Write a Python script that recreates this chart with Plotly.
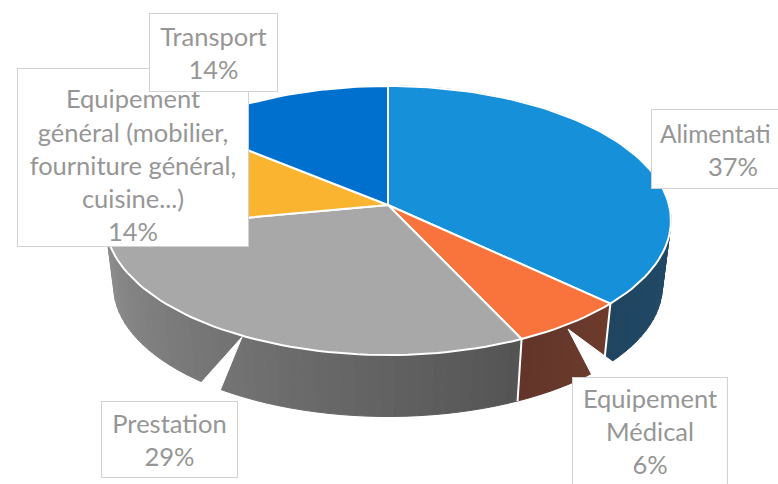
import math
import plotly.graph_objects as go

categories = ['Alimentation', 'Equipement Médical', 'Prestation', 'Equipement général', 'Transport']
values = [37, 6, 29, 14, 14]
# la premiere etiquette est coupee sur l'image d'origine, elle est posee a part
label_lines = ['&nbsp;', 'Equipement<br>Médical', 'Prestation',
               'Equipement<br>général (mobilier,<br>fourniture général,<br>cuisine...)', 'Transport']
cut_label = 'Alimentati'

top_colors = ['#1690d8', '#f9743c', '#a9a8a8', '#fbb42f', '#0070ce']
# seules les trois premieres parts ont un bord visible
side_from = ['#2b5a80', '#6d3c2d', '#545454']
side_to = ['#1f4560', '#63352a', '#8e8e8e']

# boites des etiquettes: x0, y0, x1, y1
label_boxes = [(652, 110, 814, 188), (573, 378, 727, 484), (102, 402, 237, 477),
               (18, 69, 248, 246), (150, 14, 277, 91)]
label_valign = ['middle', 'middle', 'middle', 'bottom', 'middle']

# geometrie du disque en perspective
cx, cy = 388, 205
sx, sy = 281, 132.7
k = 0.1153
depth = 66
bottom_scale = 0.97


def rim(pct, scale=1.0, dy=0.0):
    t = math.pi / 2 - 2 * math.pi * pct / 100
    d = 1 + k * math.sin(t)
    return cx + sx * scale * math.cos(t) / d, cy + dy - sy * scale * math.sin(t) / d


def mix(c1, c2, a):
    p1 = [int(c1[i:i + 2], 16) for i in (1, 3, 5)]
    p2 = [int(c2[i:i + 2], 16) for i in (1, 3, 5)]
    return 'rgb(%d,%d,%d)' % tuple(p1[i] + (p2[i] - p1[i]) * a for i in range(3))


fig = go.Figure()

# bord du disque, decoupe en petits morceaux pour le degrade
start = 0
bounds = []
for i, v in enumerate(values):
    if i < len(side_from):
        n = max(2, int(v * 1.5))
        for j in range(n):
            a = start + v * j / n
            b = start + v * (j + 1) / n
            pts = [a + (b - a) * s / 4 for s in range(5)]
            top = [rim(p) for p in pts]
            bot = [rim(p, bottom_scale, depth) for p in reversed(pts)]
            xs = [q[0] for q in top + bot]
            ys = [q[1] for q in top + bot]
            col = mix(side_from[i], side_to[i], (j + 0.5) / n)
            fig.add_trace(go.Scatter(x=xs + xs[:1], y=ys + ys[:1], mode='lines', fill='toself',
                                     fillcolor=col, line=dict(color=col, width=1), hoverinfo='skip'))
    bounds.append((start, start + v))
    start += v

# separations blanches sur le bord
for i in (0, 1):
    p = bounds[i][1]
    t, b = rim(p), rim(p, bottom_scale, depth)
    fig.add_trace(go.Scatter(x=[t[0], b[0]], y=[t[1], b[1]], mode='lines',
                             line=dict(color='white', width=2), hoverinfo='skip'))

# dessus du disque
for i, (a, b) in enumerate(bounds):
    n = max(4, int((b - a) * 2))
    pts = [rim(a + (b - a) * s / n) for s in range(n + 1)]
    xs = [cx] + [q[0] for q in pts] + [cx]
    ys = [cy] + [q[1] for q in pts] + [cy]
    fig.add_trace(go.Scatter(x=xs, y=ys, mode='lines', fill='toself', fillcolor=top_colors[i],
                             line=dict(color='white', width=2), hoverinfo='skip'))

# pointes des etiquettes
shapes = [
    dict(type='path', path='M 652 154 L 638 158 L 652 172 Z', fillcolor='white',
         line=dict(color='white', width=1), layer='above'),
    dict(type='path', path='M 594 379 L 568 329 L 636 379 Z', fillcolor='white',
         line=dict(color='white', width=1), layer='above'),
    dict(type='path', path='M 183 403 L 242 337 L 215 403 Z', fillcolor='white',
         line=dict(color='white', width=1), layer='above'),
]

label_font = dict(family='Lato', size=25.5, color='#969696')
for i in range(len(values)):
    x0, y0, x1, y1 = label_boxes[i]
    fig.add_annotation(
        x=(x0 + x1) / 2, y=(y0 + y1) / 2, xref='x', yref='y',
        width=x1 - x0, height=y1 - y0,
        text=f'{label_lines[i]}<br>{values[i]}%',
        showarrow=False, align='center', valign=label_valign[i],
        bgcolor='white', bordercolor='#d2d2d2', borderwidth=1, borderpad=0,
        font=label_font,
    )

fig.add_annotation(x=658, y=133, xref='x', yref='y', xanchor='left', text=cut_label,
                   showarrow=False, font=dict(family='Lato', size=24.5, color='#969696'))

fig.update_layout(
    width=778, height=484,
    margin=dict(l=0, r=0, t=0, b=0),
    paper_bgcolor='white', plot_bgcolor='white',
    showlegend=False,
    shapes=shapes,
    xaxis=dict(range=[0, 778], visible=False, fixedrange=True),
    yaxis=dict(range=[484, 0], visible=False, fixedrange=True),
)

# enlever la marge par defaut du body
fig.write_html("out.html", config=dict(displayModeBar=False),
               post_script="document.body.style.margin='0';document.body.style.overflow='hidden';")
